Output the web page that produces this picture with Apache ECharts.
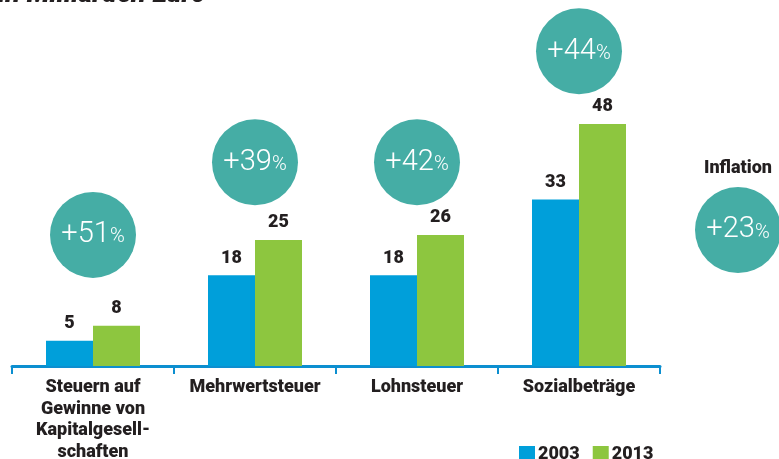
<!DOCTYPE html>
<html>
<head>
<meta charset="utf-8">
<script src="https://cdn.jsdelivr.net/npm/echarts@6/dist/echarts.min.js"></script>
<style>
  html,body{margin:0;padding:0;background:#fff;}
  #chart{width:779px;height:459px;}
</style>
</head>
<body>
<div id="chart"></div>
<script>
// Daten
const categories = ['Steuern auf\nGewinne von\nKapitalgesell-\nschaften', 'Mehrwertsteuer', 'Lohnsteuer', 'Sozialbeträge'];
const values2003 = [5, 18, 18, 33];
const values2013 = [8, 25, 26, 48];
const growth = ['+51', '+39', '+42', '+44'];
const inflation = '+23';
const seriesNames = ['2003', '2013'];

// Abstand der Kreise über dem höchsten Balken (Layout)
const bubbleLift = [18, 15.4, 14.4, 14.4];

const chart = echarts.init(document.getElementById('chart'));

const bubbleData = categories.map((c, i) => ({
    value: [i, Math.max(values2003[i], values2013[i]) + bubbleLift[i]],
    pct: growth[i]
}));

const boldFont = 'Roboto';
const dark = '#231f20';
const teal = '#45ada5';

const option = {
    animation: false,
    grid: {left: 12, right: 119, top: 13, bottom: 93, outerBoundsMode: 'none', containLabel: false},
    legend: {
        data: seriesNames,
        left: 514,
        top: 440,
        itemWidth: 16,
        itemHeight: 16,
        itemGap: 13,
        icon: 'rect',
        textStyle: {fontFamily: boldFont, fontWeight: 900, fontSize: 18, color: dark, padding: [0, 0, 0, -2]}
    },
    xAxis: {
        type: 'category',
        data: categories,
        axisLine: {lineStyle: {color: '#0c8fd0', width: 3}},
        axisTick: {show: true, length: 8, lineStyle: {color: '#0c8fd0', width: 2}},
        axisLabel: {
            interval: 0,
            margin: 11,
            fontFamily: boldFont,
            fontWeight: 900,
            fontSize: 18,
            lineHeight: 21.5,
            color: dark
        }
    },
    yAxis: {
        type: 'value',
        min: 0,
        max: 70,
        show: false,
        splitLine: {show: false}
    },
    series: [
        {
            name: seriesNames[0],
            type: 'bar',
            data: values2003,
            barWidth: 47,
            barGap: 0,
            itemStyle: {color: '#009fda'},
            label: {show: true, position: 'top', distance: 8, fontFamily: boldFont, fontWeight: 900, fontSize: 18, color: dark}
        },
        {
            name: seriesNames[1],
            type: 'bar',
            data: values2013,
            barWidth: 47,
            itemStyle: {color: '#8dc63f'},
            label: {show: true, position: 'top', distance: 8, fontFamily: boldFont, fontWeight: 900, fontSize: 18, color: dark}
        },
        {
            type: 'scatter',
            data: bubbleData,
            symbol: 'circle',
            symbolSize: 86,
            itemStyle: {color: teal, opacity: 1},
            z: 5,
            label: {
                show: true,
                position: 'inside',
                formatter: p => '{n|' + p.data.pct + '}{p|%}',
                rich: {
                    n: {fontFamily: 'Roboto', fontWeight: 300, fontSize: 29, color: '#fff'},
                    p: {fontFamily: 'Roboto', fontWeight: 300, fontSize: 20, color: '#fff', padding: [5, 0, 0, 0]}
                }
            }
        }
    ],
    graphic: [
        {
            type: 'text',
            x: -2,
            y: 9,
            style: {text: 'in Milliarden Euro', font: 'italic 900 27px Roboto', fill: dark, verticalAlign: 'bottom'}
        },
        {
            type: 'text',
            x: 738,
            y: 168,
            style: {text: 'Inflation', font: '900 18px Roboto', fill: dark, align: 'center', verticalAlign: 'middle'}
        },
        {
            type: 'circle',
            shape: {cx: 738, cy: 230, r: 43},
            style: {fill: teal}
        },
        {
            type: 'text',
            x: 738,
            y: 230,
            z: 10,
            style: {
                text: '{n|' + inflation + '}{p|%}',
                align: 'center',
                verticalAlign: 'middle',
                rich: {
                    n: {fontFamily: 'Roboto', fontWeight: 300, fontSize: 29, fill: '#fff'},
                    p: {fontFamily: 'Roboto', fontWeight: 300, fontSize: 20, fill: '#fff', padding: [5, 0, 0, 0]}
                }
            }
        }
    ]
};

chart.setOption(option);
</script>
</body>
</html>
